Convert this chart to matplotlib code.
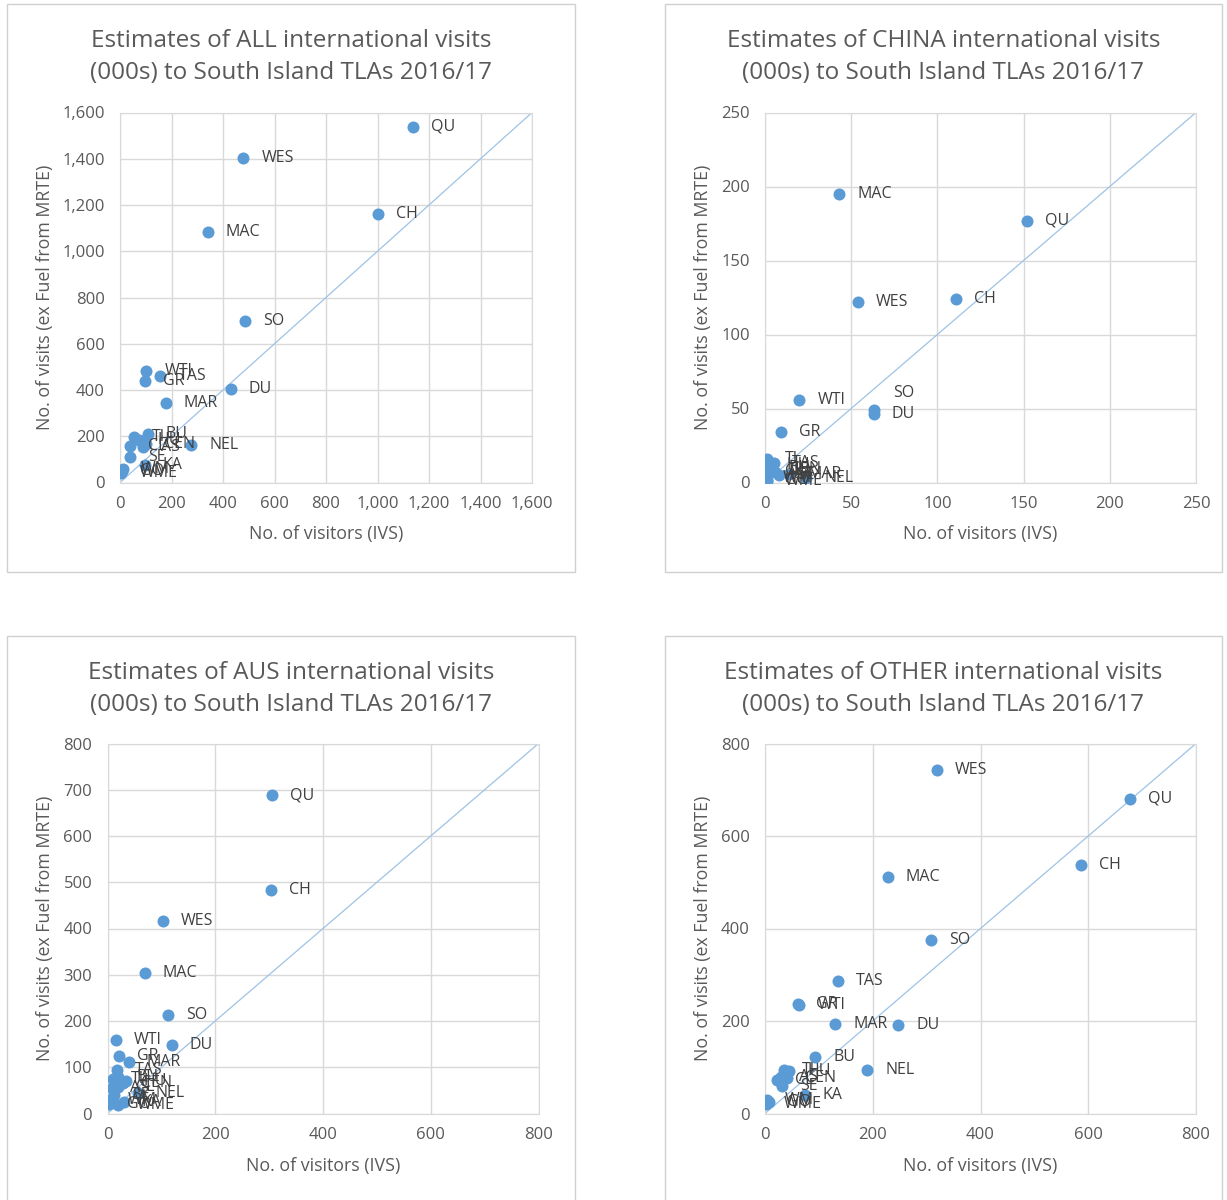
import matplotlib
matplotlib.use("Agg")
import matplotlib.pyplot as plt
from matplotlib.patches import Rectangle
from matplotlib.ticker import FuncFormatter

plt.rcParams['font.family'] = ['Open Sans', 'DejaVu Sans']

tlas = ["QU", "WES", "CH", "MAC", "SO", "DU", "WTI", "TAS", "GR", "MAR", "NEL",
        "BU", "TI", "HU", "CEN", "CL", "AS", "SE", "KA", "WM", "GO", "WME"]

all_ivs  = [1137, 479, 1002, 341, 486, 430, 102, 157, 98, 177, 277,
            108, 53, 75, 100, 39, 90, 39, 96, 10, 6, 5]
all_mrte = [1539, 1405, 1160, 1085, 699, 403, 482, 462, 437, 342, 162,
            208, 195, 185, 165, 158, 152, 109, 75, 60, 48, 40]

china_ivs  = [152, 54, 111, 43, 63, 63, 20, 5, 9, 14, 24,
              3, 1, 2, 4, 1, 2, 8, 6, 0, 1, 1]
china_mrte = [177, 122, 124, 195, 49, 46, 56, 13, 34, 6, 3,
              10, 16, 12, 9, 8, 6, 5, 7, 3, 2, 1]

aus_ivs  = [306, 103, 303, 69, 113, 119, 16, 17, 22, 39, 56,
            20, 10, 34, 28, 20, 8, 12, 30, 5, 2, 20]
aus_mrte = [688, 417, 484, 303, 214, 149, 158, 93, 124, 112, 45,
            78, 75, 70, 66, 58, 55, 40, 25, 30, 20, 18]

oth_ivs  = [677, 319, 587, 228, 309, 247, 64, 135, 62, 130, 190,
            93, 35, 45, 40, 22, 30, 32, 74, 3, 8, 2]
oth_mrte = [681, 743, 537, 511, 376, 191, 234, 287, 236, 193, 94,
            123, 94, 92, 76, 72, 78, 59, 40, 30, 25, 20]

titles = ["Estimates of ALL international visits\n(000s) to South Island TLAs 2016/17",
          "Estimates of CHINA international visits\n(000s) to South Island TLAs 2016/17",
          "Estimates of AUS international visits\n(000s) to South Island TLAs 2016/17",
          "Estimates of OTHER international visits\n(000s) to South Island TLAs 2016/17"]
xlabel = "No. of visitors (IVS)"
ylabel = "No. of visits (ex Fuel from MRTE)"
limits = [1600, 250, 800, 800]
steps = [200, 50, 100, 200]
xsteps = [200, 50, 200, 200]

W, H = 1227, 1200
fig = plt.figure(figsize=(W / 100, H / 100), dpi=100)

TXT = "#595959"
LBL = "#404040"
BLUE = "#5B9BD5"
GRID = "#D9D9D9"

# panel geometry in pixels: (box_x0, box_x1, box_y0, box_y1, ax_x0, ax_x1, ax_y0, ax_y1)
panels = [
    (7, 575, 4, 572, 120, 532, 112.5, 482.5),
    (665, 1222, 4, 572, 765, 1196, 112.5, 482.5),
    (7, 575, 636, 1215, 107.5, 538.5, 743.5, 1113.5),
    (665, 1222, 636, 1215, 765, 1196, 743.5, 1113.5),
]
data = [(all_ivs, all_mrte), (china_ivs, china_mrte), (aus_ivs, aus_mrte), (oth_ivs, oth_mrte)]
special = {(1, "SO"): (14, 12)}

fmt = FuncFormatter(lambda v, p: f"{int(v):,}")

for i, (bx0, bx1, by0, by1, ax0, ax1, ay0, ay1) in enumerate(panels):
    fig.patches.append(Rectangle((bx0 / W, 1 - by1 / H), (bx1 - bx0) / W, (by1 - by0) / H,
                                 transform=fig.transFigure, fill=False,
                                 edgecolor="#D0D0D0", linewidth=1.0))
    ax = fig.add_axes([ax0 / W, 1 - ay1 / H, (ax1 - ax0) / W, (ay1 - ay0) / H])
    lim = limits[i]
    ax.set_xlim(0, lim)
    ax.set_ylim(0, lim)
    ax.set_xticks(range(0, lim + 1, xsteps[i]))
    ax.set_yticks(range(0, lim + 1, steps[i]))
    ax.xaxis.set_major_formatter(fmt)
    ax.yaxis.set_major_formatter(fmt)
    ax.grid(True, color=GRID, linewidth=1.0)
    ax.set_axisbelow(True)
    for s in ax.spines.values():
        s.set_color(GRID)
    ax.tick_params(axis="y", length=0, colors=TXT, labelsize=12, pad=11)
    ax.tick_params(axis="x", length=0, colors=TXT, labelsize=12, pad=10)
    ax.plot([0, lim], [0, lim], color="#9DC3E6", linewidth=0.9, zorder=2)
    xs, ys = data[i]
    ax.scatter(xs, ys, s=75, color=BLUE, zorder=3, linewidths=0)
    for name, x, y in zip(tlas, xs, ys):
        off = special.get((i, name), (13, 0))
        ax.annotate(name, (x, y), xytext=off, textcoords="offset points",
                    ha="left", va="center", fontsize=11.5, color=LBL, zorder=4,
                    annotation_clip=False)
    cx = (bx0 + bx1) / 2
    fig.text(cx / W, 1 - (by0 + 53) / H, titles[i], ha="center", va="center",
             fontsize=17.5, color=TXT, linespacing=1.4)
    fig.text((ax0 + ax1) / 2 / W, 1 - (ay1 + 52) / H, xlabel, ha="center", va="center",
             fontsize=12.8, color=TXT)
    fig.text((bx0 + 38) / W, 1 - ((ay0 + ay1) / 2) / H, ylabel, ha="center", va="center",
             rotation=90, fontsize=12.8, color=TXT)

fig.savefig("out.png", dpi=100)
